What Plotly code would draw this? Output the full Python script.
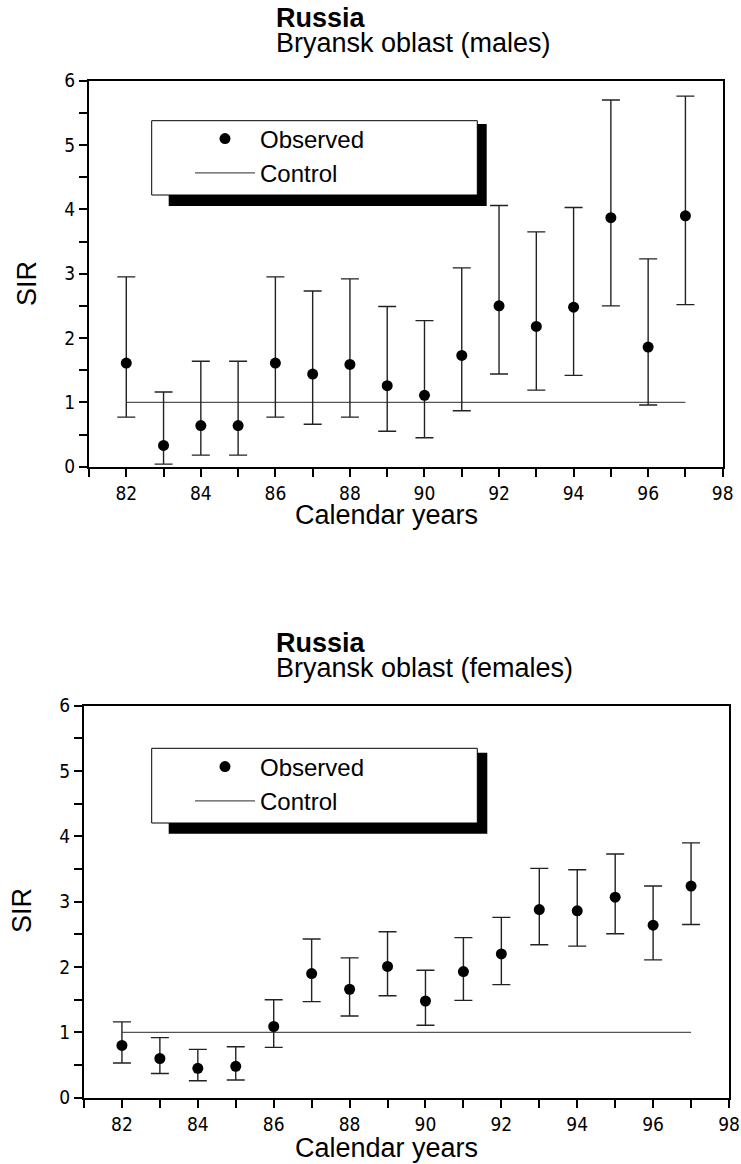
import plotly.graph_objects as go

# ---------------- data ----------------
years = [82, 83, 84, 85, 86, 87, 88, 89, 90, 91, 92, 93, 94, 95, 96, 97]

male_sir = [1.61, 0.33, 0.64, 0.64, 1.61, 1.44, 1.59, 1.26, 1.11, 1.73, 2.50, 2.18, 2.48, 3.87, 1.86, 3.90]
male_lo = [0.77, 0.04, 0.18, 0.18, 0.77, 0.66, 0.77, 0.55, 0.45, 0.87, 1.44, 1.19, 1.42, 2.50, 0.96, 2.52]
male_hi = [2.95, 1.16, 1.64, 1.64, 2.95, 2.73, 2.92, 2.49, 2.27, 3.09, 4.06, 3.65, 4.03, 5.70, 3.23, 5.76]

female_sir = [0.80, 0.60, 0.45, 0.48, 1.09, 1.90, 1.66, 2.01, 1.48, 1.93, 2.20, 2.88, 2.86, 3.07, 2.64, 3.24]
female_lo = [0.53, 0.37, 0.26, 0.27, 0.77, 1.47, 1.25, 1.56, 1.11, 1.49, 1.73, 2.34, 2.32, 2.51, 2.11, 2.65]
female_hi = [1.16, 0.92, 0.74, 0.78, 1.50, 2.43, 2.14, 2.54, 1.95, 2.45, 2.76, 3.51, 3.49, 3.73, 3.24, 3.90]

control = [1.0, 1.0, 1.0, 1.0, 1.0, 1.0, 1.0, 1.0, 1.0, 1.0, 1.0, 1.0, 1.0, 1.0, 1.0, 1.0]

x_tick_vals = [82, 84, 86, 88, 90, 92, 94, 96, 98]
x_tick_text = ["82", "84", "86", "88", "90", "92", "94", "96", "98"]
y_tick_vals = [0, 1, 2, 3, 4, 5, 6]
y_tick_text = ["0", "1", "2", "3", "4", "5", "6"]

titles_bold = ["Russia", "Russia"]
titles_sub = ["Bryansk oblast (males)", "Bryansk oblast (females)"]
x_title = "Calendar years"
y_title = "SIR"
legend_names = ["Observed", "Control"]

# ---------------- layout helpers ----------------
W, H = 741, 1164


def px(v):
    return v / W


def py(v):
    return 1 - v / H


TEXT_FONT = "Liberation Sans, Arial, Helvetica, sans-serif"
TICK_FONT = "Liberation Sans Narrow, Arial Narrow, DejaVu Sans Condensed, Liberation Sans, sans-serif"

fig = go.Figure()

panels = [
    dict(sir=male_sir, lo=male_lo, hi=male_hi, xa="x", ya="y", leg="legend"),
    dict(sir=female_sir, lo=female_lo, hi=female_hi, xa="x2", ya="y2", leg="legend2"),
]

for p in panels:
    plus = [h - s for h, s in zip(p["hi"], p["sir"])]
    minus = [s - l for s, l in zip(p["sir"], p["lo"])]
    fig.add_trace(go.Scatter(
        x=years, y=control, mode="lines", xaxis=p["xa"], yaxis=p["ya"],
        line=dict(color="#555555", width=1.3), showlegend=False, hoverinfo="skip",
    ))
    fig.add_trace(go.Scatter(
        x=years, y=p["sir"], mode="markers", xaxis=p["xa"], yaxis=p["ya"],
        marker=dict(color="black", size=11, symbol="circle"),
        error_y=dict(type="data", symmetric=False, array=plus, arrayminus=minus,
                     color="#222222", thickness=1.4, width=9),
        showlegend=False,
    ))
    # legend-only entries
    fig.add_trace(go.Scatter(
        x=[None], y=[None], mode="markers", xaxis=p["xa"], yaxis=p["ya"],
        marker=dict(color="black", size=11), name=legend_names[0], legend=p["leg"],
    ))
    fig.add_trace(go.Scatter(
        x=[None], y=[None], mode="lines", xaxis=p["xa"], yaxis=p["ya"],
        line=dict(color="#555555", width=1.3), name=legend_names[1], legend=p["leg"],
    ))

axis_common = dict(
    showline=True, linecolor="black", linewidth=2, mirror=True,
    showgrid=False, zeroline=False, ticks="outside", ticklen=8, tickwidth=1.5,
    tickcolor="black", tickfont=dict(family=TICK_FONT, size=19, color="black"),
    automargin=False,
)

xaxis_cfg = dict(axis_common, range=[81, 98], tickmode="array", tickvals=x_tick_vals,
                 ticktext=x_tick_text,
                 minor=dict(ticks="outside", tick0=81, dtick=1, ticklen=8, tickwidth=1.5,
                            tickcolor="black", showgrid=False))
yaxis_cfg = dict(axis_common, range=[0, 6], tickmode="array", tickvals=y_tick_vals,
                 ticktext=y_tick_text,
                 minor=dict(ticks="outside", tick0=0, dtick=0.5, ticklen=8, tickwidth=1.5,
                            tickcolor="black", showgrid=False))

fig.update_layout(
    width=W, height=H, margin=dict(l=0, r=0, t=0, b=0, pad=0, autoexpand=False),
    paper_bgcolor="white", plot_bgcolor="white",
    xaxis=dict(xaxis_cfg, domain=[px(89), px(722.7)], anchor="y"),
    yaxis=dict(yaxis_cfg, domain=[py(466.7), py(80.7)], anchor="x"),
    xaxis2=dict(xaxis_cfg, domain=[px(84), px(729)], anchor="y2"),
    yaxis2=dict(yaxis_cfg, domain=[py(1097.7), py(705.7)], anchor="x2"),
    legend=dict(x=px(190), y=py(116.5), xanchor="left", yanchor="top",
                bgcolor="rgba(0,0,0,0)", borderwidth=0, itemwidth=60,
                font=dict(family=TEXT_FONT, size=24, color="black"),
                tracegroupgap=0),
    legend2=dict(x=px(190), y=py(744.5), xanchor="left", yanchor="top",
                 bgcolor="rgba(0,0,0,0)", borderwidth=0, itemwidth=60,
                 font=dict(family=TEXT_FONT, size=24, color="black"),
                 tracegroupgap=0),
    showlegend=True,
)

# legend boxes with drop shadow
boxes = [
    dict(box=(151.7, 120.7, 477.3, 195), shadow=(168.7, 124, 486.7, 206)),
    dict(box=(151.7, 748.3, 477.3, 823), shadow=(168.7, 752.7, 487.3, 833.7)),
]
for b in boxes:
    x0, y0, x1, y1 = b["shadow"]
    fig.add_shape(type="rect", xref="paper", yref="paper", x0=px(x0), x1=px(x1),
                  y0=py(y1), y1=py(y0), fillcolor="black", line=dict(width=0), layer="above")
    x0, y0, x1, y1 = b["box"]
    fig.add_shape(type="rect", xref="paper", yref="paper", x0=px(x0), x1=px(x1),
                  y0=py(y1), y1=py(y0), fillcolor="white",
                  line=dict(color="black", width=1), layer="above")

# titles and axis titles
title_pos = [(18.5, 43.0), (642.5, 668.0)]
xtitle_y = [515, 1148]
ytitle_pos = [(27, 283), (22, 911)]
for i in range(2):
    fig.add_annotation(text="<b>%s</b>" % titles_bold[i], xref="paper", yref="paper",
                       x=px(273.5), y=py(title_pos[i][0]), xanchor="left", yanchor="middle",
                       showarrow=False, font=dict(family=TEXT_FONT, size=27, color="black"))
    fig.add_annotation(text=titles_sub[i], xref="paper", yref="paper",
                       x=px(273.5), y=py(title_pos[i][1]), xanchor="left", yanchor="middle",
                       showarrow=False, font=dict(family=TEXT_FONT, size=27, color="black"))
    fig.add_annotation(text=x_title, xref="paper", yref="paper",
                       x=px(386), y=py(xtitle_y[i]), xanchor="center", yanchor="middle",
                       showarrow=False, font=dict(family=TEXT_FONT, size=27, color="black"))
    fig.add_annotation(text=y_title, xref="paper", yref="paper", textangle=-90,
                       x=px(ytitle_pos[i][0]), y=py(ytitle_pos[i][1]), xanchor="center",
                       yanchor="middle", showarrow=False,
                       font=dict(family=TEXT_FONT, size=27, color="black"))

fig.write_html("out.html")
